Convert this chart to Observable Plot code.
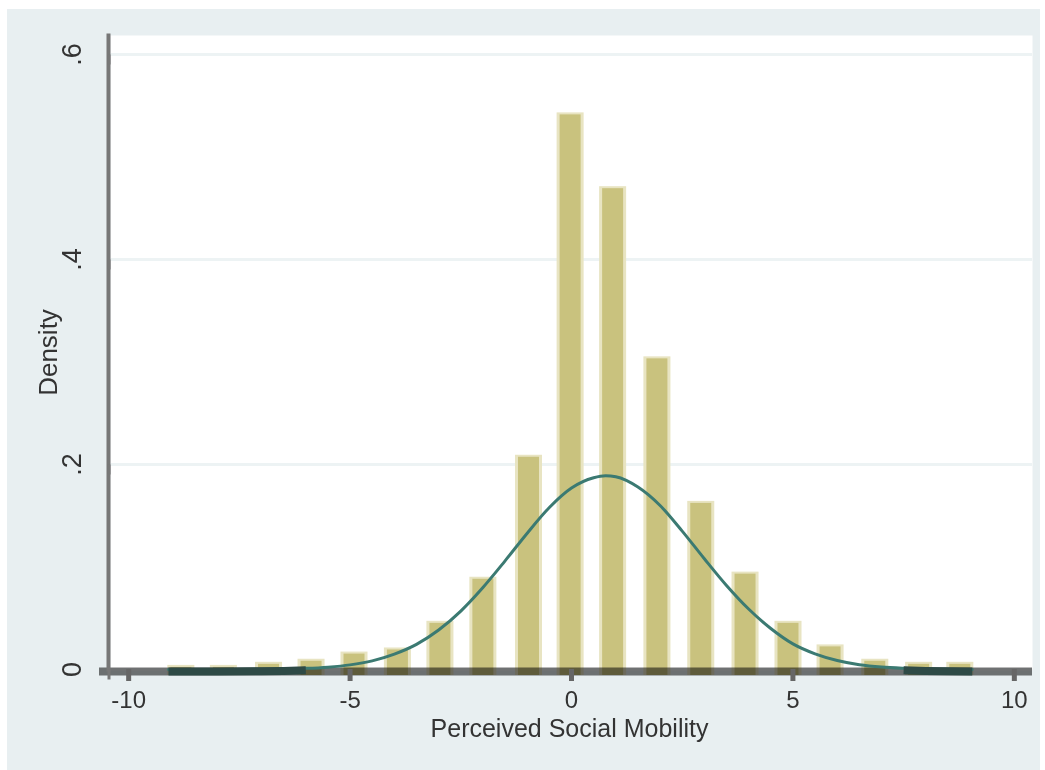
<!DOCTYPE html>
<html>
<head>
<meta charset="utf-8">
<script src="https://cdn.jsdelivr.net/npm/d3@7"></script>
<script src="https://cdn.jsdelivr.net/npm/@observablehq/plot@0.6"></script>
<style>
  html, body { margin: 0; padding: 0; background: #ffffff; }
  #bg { position: absolute; left: 7px; top: 9px; width: 1033px; height: 761px; background: #e8eff1; }
  #chart { position: absolute; left: 0; top: 0; }
</style>
</head>
<body>
<div id="bg"></div>
<div id="chart"></div>
<script>
// Histogram bins (bin centers) and densities
const binCenters = [-8.81, -7.85, -6.83, -5.87, -4.90, -3.92, -2.96, -1.99, -0.96, -0.02, 0.94, 1.94, 2.93, 3.93, 4.90, 5.85, 6.86, 7.85, 8.78];
const binDensity = [0.004, 0.004, 0.007, 0.010, 0.017, 0.021, 0.047, 0.090, 0.209, 0.543, 0.471, 0.305, 0.164, 0.095, 0.047, 0.024, 0.010, 0.007, 0.007];

// Normal density overlay
const curveX = [-9.1, -8, -7, -6.5, -6, -5.5, -5, -4.5, -4, -3.5, -3, -2.5, -2, -1.5, -1, -0.5, 0, 0.5, 0.77, 1, 1.5, 2, 2.5, 3, 3.5, 4, 4.5, 5, 5.5, 6, 6.5, 7, 7.5, 8, 8.5, 9.05];
const curveY = [0.00001, 0.00003, 0.0002, 0.0005, 0.0011, 0.0023, 0.0045, 0.0084, 0.0150, 0.0245, 0.0385, 0.057, 0.080, 0.106, 0.133, 0.158, 0.177, 0.187, 0.189, 0.188, 0.178, 0.160, 0.135, 0.108, 0.082, 0.059, 0.040, 0.025, 0.0153, 0.0088, 0.0047, 0.0024, 0.0012, 0.0005, 0.0002, 0.00005];

const yTicks = [0, 0.2, 0.4, 0.6];
const xTicks = [-10, -5, 0, 5, 10];
const xLabel = "Perceived Social Mobility";
const yLabel = "Density";

const bars = binCenters.map((x, i) => ({x, density: binDensity[i]}));
const curve = curveX.map((x, i) => ({x, y: curveY[i]}));

const half = 0.305;
const axisColor = "#777777";
const textColor = "#333333";
const yFmt = d => d === 0 ? "0" : String(d).replace(/^0\./, ".");
const xFmt = d => String(d);

const chart = Plot.plot({
  width: 1045,
  height: 770,
  marginLeft: 110,
  marginRight: 13,
  marginTop: 35,
  marginBottom: 101,
  x: {domain: [-10.41, 10.41]},
  y: {domain: [0, 0.6185]},
  style: {background: "transparent", fontFamily: "Liberation Sans, Arial, sans-serif", overflow: "visible"},
  marks: [
    Plot.frame({fill: "white", stroke: null}),
    Plot.gridY(yTicks, {stroke: "#edf3f4", strokeOpacity: 1, strokeWidth: 3}),
    Plot.rectY(bars, {x1: d => d.x - half, x2: d => d.x + half, y: "density", fill: "#e8e4c2", insetBottom: -6}),
    Plot.rectY(bars, {x1: d => d.x - half, x2: d => d.x + half, y: "density", fill: "#c9c27e", insetLeft: 3, insetRight: 3, insetTop: 2, insetBottom: -6}),
    Plot.ruleY([0], {stroke: axisColor, strokeWidth: 8, dy: 2, insetLeft: -11, mixBlendMode: "multiply"}),
    Plot.frame({anchor: "left", stroke: axisColor, strokeWidth: 4, dx: -2}),
    Plot.line(curve, {x: "x", y: "y", stroke: "#3b7a72", strokeWidth: 3, curve: "monotone-x"}),
    Plot.line(curve, {x: "x", y: d => d.y < 0.0016 ? d.y : NaN, stroke: "#2e4a46", strokeWidth: 8, dy: 2, strokeLinecap: "butt"}),
    Plot.axisY({ticks: yTicks, tickSize: 10, tickPadding: 27, strokeWidth: 3, stroke: axisColor, dx: -1,
      tickFormat: yFmt, fontSize: 27, fill: textColor, rotate: -90, textAnchor: "middle", label: null}),
    Plot.axisX({ticks: xTicks, tickSize: 12, tickPadding: 9, strokeWidth: 5, stroke: "#666666",
      tickFormat: xFmt, fontSize: 24, fill: textColor, label: null}),
    Plot.text([yLabel], {text: d => d, frameAnchor: "left", textAnchor: "middle", lineAnchor: "middle", dx: -62, rotate: -90, fontSize: 26, fill: textColor}),
    Plot.text([xLabel], {text: d => d, frameAnchor: "bottom", textAnchor: "middle", lineAnchor: "middle", dy: 59, dx: -2, fontSize: 25, fill: textColor})
  ]
});
document.getElementById("chart").appendChild(chart);
</script>
</body>
</html>
